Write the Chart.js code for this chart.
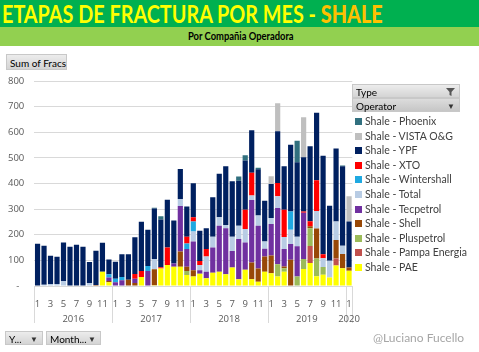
<!DOCTYPE html>
<html>
<head>
<meta charset="utf-8">
<script src="https://cdn.jsdelivr.net/npm/chart.js@4.4.0/dist/chart.umd.min.js"></script>
<style>
  body { margin: 0; width: 479px; height: 352px; overflow: hidden; background: #fff; position: relative; font-family: Lato, sans-serif; }
  #chart { position: absolute; left: 0; top: 0; }
  .band1 { position: absolute; left: 0; top: 0; width: 479px; height: 27px; background: #00B050; }
  .band2 { position: absolute; left: 0; top: 27px; width: 479px; height: 19px; background: #92D050; }
  .fit { position: absolute; white-space: nowrap; transform-origin: 0 0; }
  #title { left: 2px; top: -1px; font-size: 24px; font-weight: 700; color: #FFFF00; }
  #title b { color: #FFC000; }
  #subtitle { left: 188px; top: 29px; font-size: 11.5px; font-weight: 700; color: #000; }
  .btn { position: absolute; height: 14px; font-size: 10px; line-height: 14px; color: #000; background: linear-gradient(#ececec, #d4d4d4); border: 1px solid #c8c8c8; box-sizing: border-box; padding-left: 3px; white-space: nowrap; }
  .arrow { position: absolute; right: 4px; top: 0; font-size: 8px; color: #333; }
  #legend { position: absolute; left: 355px; top: 114px; }
  .item { position: relative; height: 14.6px; font-size: 10.5px; line-height: 14.6px; color: #404040; white-space: nowrap; }
  .sw { display: inline-block; width: 7px; height: 7px; margin-right: 3px; vertical-align: 0px; }
  #credit { position: absolute; left: 373px; top: 330px; font-size: 12px; color: #A6A6A6; white-space: nowrap; }
</style>
</head>
<body>
<canvas id="chart" width="479" height="352"></canvas>
<div class="band1"></div>
<div class="band2"></div>
<div id="title" class="fit">ETAPAS DE FRACTURA POR MES - <b>SHALE</b></div>
<div id="subtitle" class="fit">Por Compañia Operadora</div>
<div class="btn" style="left:6px;top:54px;width:61px;height:16px;line-height:16px;">Sum of Fracs</div>
<div class="btn" style="left:352px;top:84px;width:108px;">Type<svg style="position:absolute;right:4px;top:3px" width="9" height="8"><polygon points="0,0 9,0 5.5,4 5.5,8 3.5,7 3.5,4" fill="#555"/></svg></div>
<div class="btn" style="left:352px;top:98px;width:108px;background:linear-gradient(#dcdcdc,#c6c6c6);">Operator<span class="arrow">&#9660;</span></div>
<div id="legend"></div>
<div class="btn" style="left:5px;top:331px;width:38px;">Y...<span class="arrow">&#9660;</span></div>
<div class="btn" style="left:46px;top:331px;width:55px;">Month...<span class="arrow">&#9660;</span></div>
<div id="credit">@Luciano Fucello</div>
<script>
// categories: Jan 2016 .. Jan 2020
const years = [2016,2016,2016,2016,2016,2016,2016,2016,2016,2016,2016,2016,
  2017,2017,2017,2017,2017,2017,2017,2017,2017,2017,2017,2017,
  2018,2018,2018,2018,2018,2018,2018,2018,2018,2018,2018,2018,
  2019,2019,2019,2019,2019,2019,2019,2019,2019,2019,2019,2019,
  2020];
const months = [1,2,3,4,5,6,7,8,9,10,11,12, 1,2,3,4,5,6,7,8,9,10,11,12,
  1,2,3,4,5,6,7,8,9,10,11,12, 1,2,3,4,5,6,7,8,9,10,11,12, 1];
const yearLabels = ["2016", "2017", "2018", "2019", "2020"];
const yTicks = [0, 100, 200, 300, 400, 500, 600, 700, 800];

// frac stages per operator (bottom of stack first)
const pae = [0,0,0,0,0,0,0,0,0,0,56,15, 0,0,0,0,35,0,3,68,82,75,75,43,
  37,48,30,52,56,46,72,26,63,26,17,56, 50,37,56,0,0,66,90,38,44,33,80,69, 60];
const pampa = [0,0,0,0,0,0,0,0,0,0,0,0, 0,0,0,0,0,0,0,0,0,0,0,0,
  0,0,0,0,0,0,0,0,0,0,0,0, 0,0,0,0,0,0,66,0,0,0,27,0, 0];
const pluspetrol = [0,0,0,0,0,0,0,0,0,0,0,0, 0,0,0,0,0,0,0,0,0,0,0,16,
  0,0,0,0,0,0,0,0,0,0,0,0, 0,48,13,0,37,39,69,69,30,0,0,0, 0];
const shell = [0,0,0,0,0,0,0,0,0,4,0,5, 0,0,24,12,0,0,62,0,0,0,60,16,
  24,0,0,0,0,0,0,0,0,66,51,59, 69,0,7,102,0,0,8,117,0,0,73,56, 12];
const tecpetrol = [0,0,0,0,0,0,0,0,0,0,0,13, 15,22,0,16,0,59,0,0,0,13,177,69,
  113,13,26,98,179,179,65,157,107,244,167,30, 123,219,68,62,118,181,0,0,0,0,0,0, 0];
const total = [0,5,8,8,20,0,0,0,12,0,0,0, 0,0,0,0,0,0,40,0,0,0,28,0,
  39,21,59,42,33,13,55,52,52,17,40,29, 23,46,47,56,37,0,0,69,34,66,72,32, 0];
const wintershall = [0,0,0,0,0,0,0,0,0,0,0,13, 13,13,0,0,0,19,0,0,0,0,0,22,
  39,0,0,0,0,0,0,0,0,0,0,0, 0,0,0,71,0,0,0,0,0,0,0,0, 0];
const xto = [0,0,0,0,0,0,0,0,0,0,0,0, 0,0,0,19,24,0,0,5,68,0,0,26,
  16,16,29,0,0,0,0,0,76,89,0,0, 0,52,107,0,0,5,20,120,16,0,0,0, 0];
const ypf = [165,152,110,106,150,153,161,153,82,134,113,57, 67,89,100,143,192,142,197,187,187,168,117,118,
  133,118,81,154,170,229,217,176,192,166,181,159, 133,202,169,260,291,211,292,263,384,214,285,310, 180];
const vista = [0,0,0,0,0,0,0,0,0,0,0,0, 0,0,0,0,0,0,0,0,0,0,0,0,
  0,0,0,0,0,0,0,0,0,0,0,0, 30,109,0,0,0,157,0,0,0,0,0,0, 98];
const phoenix = [0,0,0,0,0,0,0,0,0,0,0,0, 0,0,0,0,0,0,3,12,0,0,0,0,
  0,0,0,0,0,0,0,16,20,0,5,0, 0,0,0,0,84,0,0,0,0,0,0,3, 0];

const series = [
  { label: "Shale - PAE", data: pae, color: "#FFFF00" },
  { label: "Shale - Pampa Energia", data: pampa, color: "#C0504D" },
  { label: "Shale - Pluspetrol", data: pluspetrol, color: "#9BBB59" },
  { label: "Shale - Shell", data: shell, color: "#984807" },
  { label: "Shale - Tecpetrol", data: tecpetrol, color: "#7030A0" },
  { label: "Shale - Total", data: total, color: "#B8CCE4" },
  { label: "Shale - Wintershall", data: wintershall, color: "#1FA9E1" },
  { label: "Shale - XTO", data: xto, color: "#FF0000" },
  { label: "Shale - YPF", data: ypf, color: "#002060" },
  { label: "Shale - VISTA O&G", data: vista, color: "#BFBFBF" },
  { label: "Shale - Phoenix", data: phoenix, color: "#31707F" },
];

function fitWidth(id, w) {
  const el = document.getElementById(id);
  el.style.transform = "scaleX(" + (w / el.offsetWidth) + ")";
}
fitWidth("title", 381);
fitWidth("subtitle", 106);

// year groups under the month labels
const yearAxis = {
  id: "yearAxis",
  afterDraw(chart) {
    const ctx = chart.ctx;
    const x = chart.scales.x;
    const area = chart.chartArea;
    const half = (area.right - area.left) / years.length / 2;
    ctx.save();
    ctx.strokeStyle = "#D9D9D9";
    ctx.lineWidth = 1;
    ctx.fillStyle = "#595959";
    ctx.font = "9.5px 'Open Sans'";
    ctx.textAlign = "center";
    ctx.textBaseline = "middle";
    yearLabels.forEach((yl) => {
      const first = years.indexOf(Number(yl));
      const last = years.lastIndexOf(Number(yl));
      const x0 = x.getPixelForValue(first) - half;
      const x1 = x.getPixelForValue(last) + half;
      [x0, x1].forEach((px) => {
        ctx.beginPath();
        ctx.moveTo(Math.round(px) + 0.5, area.bottom);
        ctx.lineTo(Math.round(px) + 0.5, area.bottom + 37);
        ctx.stroke();
      });
      ctx.fillText(yl, (x0 + x1) / 2, area.bottom + 33);
    });
    ctx.restore();
  },
};

const chart = new Chart(document.getElementById("chart"), {
  type: "bar",
  data: {
    labels: months.map((m, i) => years[i] + "-" + m),
    datasets: series.map((s) => ({
      label: s.label,
      data: s.data,
      backgroundColor: s.color,
      borderWidth: 0,
      barPercentage: 0.8,
      categoryPercentage: 1,
    })),
  },
  options: {
    responsive: false,
    animation: false,
    layout: { padding: { top: 81, right: 126.7, bottom: 21, left: 0 } },
    plugins: { legend: { display: false }, tooltip: { enabled: false } },
    scales: {
      x: {
        stacked: true,
        grid: { display: false },
        border: { display: false },
        afterFit: (s) => { s.height = 45; },
        ticks: {
          autoSkip: false,
          maxRotation: 0,
          padding: 5,
          color: "#595959",
          font: { family: "Open Sans", size: 9.5 },
          callback: (v, i) => (months[i] % 2 === 1 ? String(months[i]) : ""),
        },
      },
      y: {
        stacked: true,
        min: 0,
        max: 800,
        afterFit: (s) => { s.width = 34.3; },
        afterBuildTicks: (s) => { s.ticks = yTicks.map((v) => ({ value: v })); },
        grid: { color: "#D9D9D9", drawTicks: false },
        border: { display: false },
        ticks: {
          padding: 10,
          color: "#595959",
          font: { family: "Open Sans", size: 9.5 },
          callback: (v) => (v === 0 ? "-  " : v),
        },
      },
    },
  },
  plugins: [yearAxis],
});

// legend listed top of the stack first
const legend = document.getElementById("legend");
series.slice().reverse().forEach((s) => {
  const row = document.createElement("div");
  row.className = "item";
  row.innerHTML = '<span class="sw" style="background:' + s.color + '"></span>' + s.label.replace("&", "&amp;");
  legend.appendChild(row);
});
</script>
</body>
</html>
